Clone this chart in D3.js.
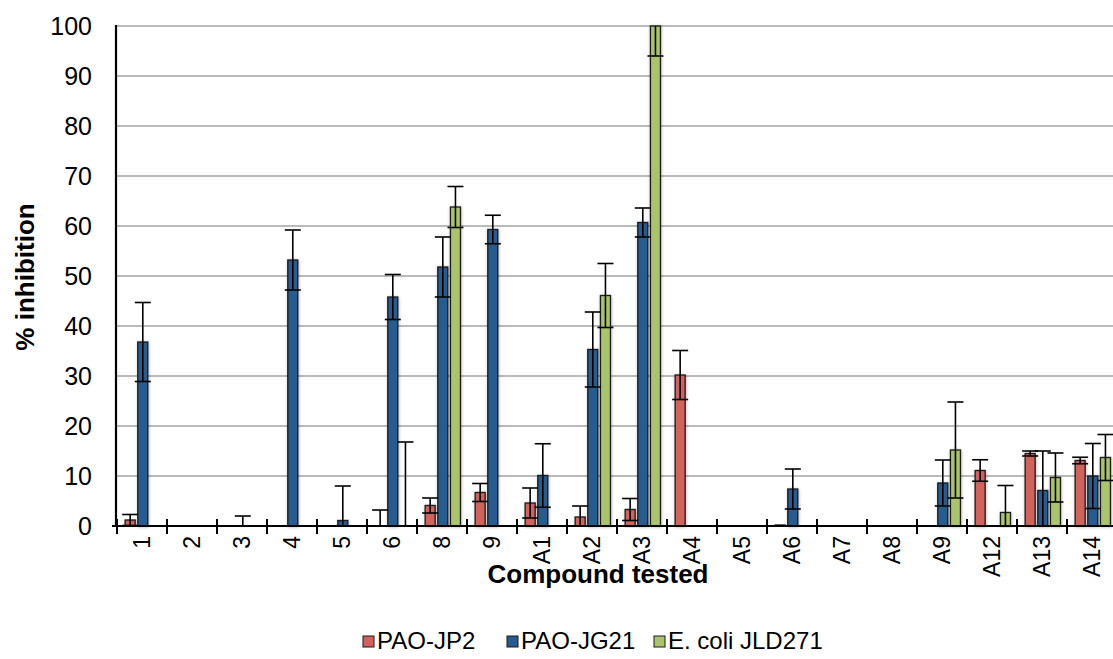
<!DOCTYPE html>
<html><head><meta charset="utf-8">
<script src="https://cdn.jsdelivr.net/npm/d3@7/dist/d3.min.js"></script>
<style>body{margin:0;background:#fff}svg{display:block}text{font-family:"Liberation Sans",Arial,sans-serif;fill:#000}</style>
</head><body><svg id="c" width="1113" height="659"></svg>
<script>
const categories = ["1","2","3","4","5","6","8","9","A1","A2","A3","A4","A5","A6","A7","A8","A9","A12","A13","A14"];
const seriesNames = ["PAO-JP2","PAO-JG21","E. coli JLD271"];
const jp2    = [1.2,0,0,0,0,0,4.1,6.7,4.6,1.8,3.3,30.2,0,0.2,0,0,0,11.1,14.5,13.1];
const jp2Err = [1.1,0,0,0,0,3.2,1.5,1.8,3.0,2.2,2.2,4.9,0,0,0,0,0,2.15,0.5,0.65];
const jg21    = [36.8,0,0,53.2,1.1,45.8,51.8,59.3,10.1,35.3,60.7,0,0,7.4,0,0,8.6,0,7.1,10.0];
const jg21Err = [7.9,0,2.0,6.0,6.9,4.5,6.0,2.85,6.35,7.5,2.9,0,0,4.0,0,0,4.6,0,7.9,6.5];
const jld    = [0,0,0,0,0,0,63.8,0,0,46.1,100,0,0,0,0,0,15.2,2.7,9.7,13.7];
const jldErr = [0,0,0,0,0,16.8,4.1,0,0,6.4,6.0,0,0,0,0,0,9.6,5.4,4.9,4.6];
const yTicks = [0,10,20,30,40,50,60,70,80,90,100];
const colors = ["#d1635c","#275b8f","#a9c46b"];

const values = [jp2, jg21, jld];
const errors = [jp2Err, jg21Err, jldErr];

const svg = d3.select("#c");
const x = d3.scaleBand().domain(categories).range([117, 1117]).padding(0);
const x1 = d3.scaleBand().domain(seriesNames).range([8.15, 43.45]).paddingInner(0.21);
const y = d3.scaleLinear().domain([0, 100]).range([526, 26]);

const defs = svg.append("defs");
const f = defs.append("filter").attr("id","sh").attr("x","-50%").attr("y","-10%").attr("width","200%").attr("height","120%");
f.append("feDropShadow").attr("dx",0.5).attr("dy",0.5).attr("stdDeviation",1.6).attr("flood-color","#000").attr("flood-opacity",0.3);

// gridlines
svg.append("g").selectAll("line").data(yTicks.filter(d => d > 0)).join("line")
  .attr("x1", 117).attr("x2", 1113)
  .attr("y1", d => y(d)).attr("y2", d => y(d))
  .attr("stroke", "#a3a3a3").attr("stroke-width", 1.6);

// y tick labels
svg.append("g").selectAll("text").data(yTicks).join("text")
  .attr("x", 92).attr("y", d => y(d)).attr("dy", "0.35em")
  .attr("text-anchor", "end").style("font-size", "25px")
  .text(d => d);

// bars
const groups = svg.append("g").selectAll("g").data(categories).join("g")
  .attr("transform", d => `translate(${x(d)},0)`);
seriesNames.forEach((s, si) => {
  groups.append("rect")
    .attr("x", x1(s)).attr("width", x1.bandwidth())
    .attr("y", (d, i) => y(values[si][i]))
    .attr("height", (d, i) => y(0) - y(values[si][i]))
    .attr("fill", colors[si]).attr("stroke", "#1a1a1a").attr("stroke-width", 1.3)
    .attr("filter", "url(#sh)");
});

// error bars
seriesNames.forEach((s, si) => {
  groups.each(function(d, i) {
    const e = errors[si][i];
    if (!e) return;
    const v = values[si][i];
    const cx = x1(s) + x1.bandwidth() / 2;
    const hi = v + e, lo = v - e;
    const g = d3.select(this);
    g.append("line").attr("x1", cx).attr("x2", cx)
      .attr("y1", y(Math.min(hi, 100))).attr("y2", y(Math.max(lo, 0)))
      .attr("stroke", "#000").attr("stroke-width", 1.6);
    [hi, lo].forEach(t => {
      if (t > 0 && t <= 100) {
        g.append("line").attr("x1", cx - 8).attr("x2", cx + 8)
          .attr("y1", y(t)).attr("y2", y(t))
          .attr("stroke", "#000").attr("stroke-width", 1.6);
      }
    });
  });
});

// axes lines
svg.append("line").attr("x1", 116).attr("x2", 116).attr("y1", 25).attr("y2", 527)
  .attr("stroke", "#000").attr("stroke-width", 2.2);
svg.append("line").attr("x1", 112).attr("x2", 1117).attr("y1", y(0)).attr("y2", y(0))
  .attr("stroke", "#000").attr("stroke-width", 2.2);
// x ticks at category boundaries
const bounds = categories.map(c => x(c)).concat([x.range()[1]]);
svg.append("g").selectAll("line").data(bounds).join("line")
  .attr("x1", d => d).attr("x2", d => d).attr("y1", 519).attr("y2", 534)
  .attr("stroke", "#000").attr("stroke-width", 2);

// x labels
svg.append("g").selectAll("text").data(categories).join("text")
  .attr("transform", d => `translate(${x(d) + x.bandwidth()/2},536) rotate(-90)`)
  .attr("dy", "0.35em").attr("text-anchor", "end").style("font-size", "23px")
  .text(d => d);

// axis titles
svg.append("text").attr("x", 598).attr("y", 583).attr("text-anchor", "middle")
  .style("font-size", "26px").style("font-weight", "bold").text("Compound tested");
svg.append("text").attr("transform", "translate(34,277) rotate(-90)").attr("text-anchor", "middle")
  .style("font-size", "26px").style("font-weight", "bold").text("% inhibition");

// legend
const legendX = [363, 507, 654];
const lg = svg.append("g").selectAll("g").data(seriesNames).join("g")
  .attr("transform", (d, i) => `translate(${legendX[i]},636)`);
lg.append("rect").attr("x", 0).attr("y", 0).attr("width", 11).attr("height", 11)
  .attr("fill", (d, i) => colors[i]).attr("stroke", "#1a1a1a").attr("stroke-width", 1);
lg.append("text").attr("x", 14).attr("y", 13).style("font-size", "24px").text(d => d);
</script></body></html>
